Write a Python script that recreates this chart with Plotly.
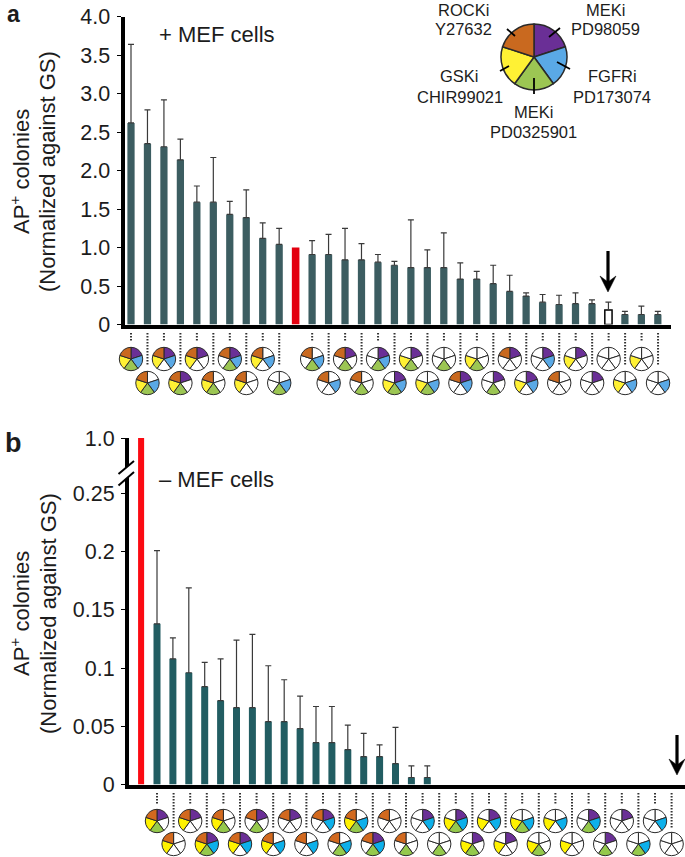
import plotly.graph_objects as go

# ---------- data ----------
a_values = [2.62, 2.35, 2.31, 2.14, 1.59, 1.59, 1.43, 1.39, 1.12, 1.04, 1.00,
            0.91, 0.91, 0.84, 0.84, 0.81, 0.77, 0.74, 0.74, 0.74, 0.59, 0.59,
            0.53, 0.43, 0.37, 0.29, 0.26, 0.27, 0.27, 0.19, 0.13, 0.13, 0.13]
a_tops = [3.64, 2.79, 2.92, 2.41, 1.80, 2.17, 1.60, 1.75, 1.32, 1.25, None,
          1.09, 1.17, 1.25, 1.05, 0.91, 0.82, 1.36, 0.97, 1.19, 0.80, 0.69,
          0.77, 0.64, 0.41, 0.39, 0.38, 0.41, 0.32, 0.29, 0.17, 0.24, 0.17]
a_pies = ["PBGYO", "BGYO", "PBYO", "PGYO", "PYO", "GYO", "PBGO", "YO", "BYO", "BG", None,
          "BGO", "BO", "PGO", "GO", "PBG", "PBGY", "PGY", "BGY", "G", "PBO", "GY",
          "PG", "PO", "PBY", "PB", "O", "PY", "P", "", "BY", "Y", "B"]

b_values = [1.0, 0.138, 0.108, 0.096, 0.084, 0.072, 0.066, 0.066, 0.054, 0.054,
            0.048, 0.036, 0.036, 0.030, 0.024, 0.024, 0.018, 0.006, 0.006,
            0, 0, 0, 0, 0, 0, 0, 0, 0, 0, 0, 0, 0, 0]
b_tops = [None, 0.201, 0.126, 0.169, 0.105, 0.108, 0.124, 0.129, 0.102, 0.090,
          0.076, 0.067, 0.067, 0.051, 0.044, 0.034, 0.049, 0.016, 0.016,
          None, None, None, None, None, None, None, None, None, None, None, None, None, None]
b_pies = ["PGYO", "YO", "PYO", "PBGYO", "GYO", "PBYO", "PGO", "BYO", "PO", "BO", "PBO",
          "BGO", "BGYO", "PBGO", "O", "GO", "PB", "G", "PBGY", "PGY", "PBY", "PY",
          "BGY", "GY", "BY", "Y", "PBG", "PG", "P", "BG", "B", ""]

a_ticks = [0, 0.5, 1, 1.5, 2, 2.5, 3, 3.5, 4]
a_ticktext = ["0", "0.5", "1.0", "1.5", "2.0", "2.5", "3.0", "3.5", "4.0"]
b_ticks = [0, 0.05, 0.1, 0.15, 0.2, 0.25]
b_ticktext = ["0", "0.05", "0.1", "0.15", "0.2", "0.25"]

slice_order = ["P", "B", "G", "Y", "O"]
key_labels = [("ROCKi", "Y27632"), ("MEKi", "PD98059"), ("GSKi", "CHIR99021"),
              ("FGFRi", "PD173074"), ("MEKi", "PD0325901")]

# ---------- styling ----------
W, H = 685, 857
FONT = "Liberation Sans"
INK = "#1c1c1c"
COL_A = {"P": "#6a2f96", "B": "#5aa9e6", "G": "#9cc653", "Y": "#fff134", "O": "#c9691f"}
COL_B = {"P": "#6a2f96", "B": "#0db0ea", "G": "#95c94c", "Y": "#fff200", "O": "#d2691e"}
ERR = dict(type="data", symmetric=False, color="#3a3a3a", thickness=1.2, width=3)


def px(x):
    return x / W


def py(y):
    return 1 - y / H


fig = go.Figure()

# panel a bars
a_x = list(range(len(a_values)))
a_idx = [i for i in a_x if a_tops[i] is not None]
fig.add_trace(go.Bar(
    x=a_idx, y=[a_values[i] for i in a_idx], xaxis="x", yaxis="y", width=0.44,
    marker=dict(color=["white" if i == 29 else "#3c5d61" for i in a_idx],
                line=dict(color="black", width=[1.5 if i == 29 else 0 for i in a_idx])),
    error_y=dict(ERR, array=[round(a_tops[i] - a_values[i], 3) for i in a_idx]),
    showlegend=False, hoverinfo="skip"))
fig.add_trace(go.Bar(
    x=[10], y=[a_values[10]], xaxis="x", yaxis="y", width=0.46,
    marker=dict(color="#e3000f", line=dict(width=0)), showlegend=False, hoverinfo="skip"))

# panel b bars
b_x = list(range(len(b_values)))
b_idx = [i for i in b_x if b_tops[i] is not None]
fig.add_trace(go.Bar(
    x=b_idx, y=[b_values[i] for i in b_idx], xaxis="x2", yaxis="y2", width=0.44,
    marker=dict(color="#225d62", line=dict(width=0)),
    error_y=dict(ERR, array=[round(b_tops[i] - b_values[i], 3) for i in b_idx]),
    showlegend=False, hoverinfo="skip"))
for ax in ("y2", "y3"):
    fig.add_trace(go.Bar(
        x=b_x[:1], y=b_values[:1], xaxis="x2", yaxis=ax, width=0.38,
        marker=dict(color="#fb0a12", line=dict(width=0)),
        showlegend=False, hoverinfo="skip"))


def add_pie(cx, cy, r, members, colors, lw=1.0):
    fig.add_trace(go.Pie(
        values=[1] * 5, sort=False, direction="clockwise", rotation=0,
        marker=dict(colors=[colors[s] if s in members else "white" for s in slice_order],
                    line=dict(color="#2a2a2a", width=lw)),
        textinfo="none", hoverinfo="skip", showlegend=False,
        domain=dict(x=[px(cx - r), px(cx + r)], y=[py(cy + r), py(cy - r)])))


shapes = []


def connector(x, y0, y1):
    shapes.append(dict(type="line", xref="paper", yref="paper", x0=px(x), x1=px(x),
                       y0=py(y0), y1=py(y1),
                       line=dict(color="#333333", width=2, dash="1.5px,1.5px")))


# panel a pies
for i, m in enumerate(a_pies):
    if m is None:
        continue
    x = 131 + 16.47 * i
    top = (i % 2 == 0) if i < 10 else (i % 2 == 1)
    connector(x, 333, 342 if top else 366)
    add_pie(x, 359 if top else 383, 11.7, m, COL_A)

# panel b pies
for i, m in enumerate(b_pies):
    x = 157 + 16.6 * i
    top = i % 2 == 0
    connector(x, 793, 805 if top else 828)
    add_pie(x, 821 if top else 844, 11.7, m, COL_B)

# key pie
add_pie(534, 57, 33, "PBGYO", COL_A, lw=1.5)
for (x0, y0, x1, y1) in [(560, 28, 549, 37), (507, 29, 515, 36), (500, 71, 509, 66),
                         (534, 78, 534, 94), (557, 62, 570, 69)]:
    shapes.append(dict(type="line", xref="paper", yref="paper", x0=px(x0), x1=px(x1),
                       y0=py(y0), y1=py(y1), line=dict(color="black", width=1.8)))

# axis break
shapes.append(dict(type="line", xref="paper", yref="paper", x0=px(119), x1=px(134),
                   y0=py(479.5), y1=py(466), line=dict(color="white", width=8)))
for (x0, y0, x1, y1) in [(118.5, 474, 134, 461), (118.5, 485.5, 134, 472)]:
    shapes.append(dict(type="line", xref="paper", yref="paper", x0=px(x0), x1=px(x1),
                       y0=py(y0), y1=py(y1), line=dict(color="black", width=2)))

# arrows
for (x, y0, y1) in [(608, 251, 292), (677, 735, 775)]:
    shapes.append(dict(type="line", xref="paper", yref="paper", x0=px(x), x1=px(x),
                       y0=py(y0), y1=py(y1 - 8), line=dict(color="black", width=3.2)))
    pts = [(x, y1), (x - 8, y1 - 16), (x, y1 - 10), (x + 8, y1 - 16)]
    path = "M " + " L ".join(f"{px(a):.5f} {py(b):.5f}" for a, b in pts) + " Z"
    shapes.append(dict(type="path", xref="paper", yref="paper", path=path,
                       fillcolor="black", line=dict(color="black", width=0.5)))

annotations = []


def text(x, y, s, size, anchor="center", bold=False, angle=0):
    annotations.append(dict(
        xref="paper", yref="paper", x=px(x), y=py(y), text=f"<b>{s}</b>" if bold else s,
        showarrow=False, xanchor=anchor, yanchor="middle", textangle=angle,
        font=dict(family=FONT, size=size, color=INK)))


text(13, 13.5, "a", 23, bold=True)
text(13, 443, "b", 27, bold=True)
text(157, 34, "+ MEF cells", 22, "left")
text(157, 480, "– MEF cells", 22, "left")
for yc, (xa, xb) in [(172, (20, 48)), (614, (20, 48))]:
    text(xa, yc, "AP<sup>+</sup> colonies", 22, angle=-90)
    text(xb, yc, "(Normalized against GS)", 22, angle=-90)

key_pos = [(463, 10, 29), (605, 10, 29), (460, 76, 97), (612, 76, 97), (533, 112, 132)]
for (l1, l2), (xk, y1, y2) in zip(key_labels, key_pos):
    text(xk, y1, l1, 16.5)
    text(xk, y2, l2, 16.5)

axis_y = dict(showline=True, linewidth=4, linecolor="black", ticks="outside", ticklen=4,
              tickwidth=1.2, tickcolor="black", showgrid=False, zeroline=False,
              tickfont=dict(family=FONT, size=21.5, color=INK), ticklabelstandoff=2)
axis_x = dict(showline=True, linewidth=4, linecolor="black", ticks="", showticklabels=False,
              showgrid=False, zeroline=False)

fig.update_layout(
    width=W, height=H, margin=dict(l=0, r=0, t=0, b=0, autoexpand=False), autosize=False,
    paper_bgcolor="white", plot_bgcolor="rgba(0,0,0,0)", barmode="overlay",
    font=dict(family=FONT, color=INK),
    xaxis=dict(axis_x, domain=[px(124.5), px(671)], range=[-0.395, 32.8], anchor="y"),
    yaxis=dict(axis_y, domain=[py(324.5), py(16.7)], range=[0, 4],
               tickmode="array", tickvals=a_ticks, ticktext=a_ticktext, anchor="x"),
    xaxis2=dict(axis_x, domain=[px(129), 1], range=[(129 - 141.1) / 15.9, (685 - 141.1) / 15.9], anchor="y2"),
    yaxis2=dict(axis_y, domain=[py(784.5), py(473)], range=[0, 311.5 / 1164],
                tickmode="array", tickvals=b_ticks, ticktext=b_ticktext, anchor="x2"),
    yaxis3=dict(axis_y, domain=[py(473), py(438)], range=[0.9, 1.0],
                tickmode="array", tickvals=[1.0], ticktext=["1.0"], anchor="x2"),
    shapes=shapes, annotations=annotations,
)

fig.write_html("out.html", config={"displayModeBar": False},
               post_script="document.body.style.margin='0';document.documentElement.style.overflow='hidden';")
